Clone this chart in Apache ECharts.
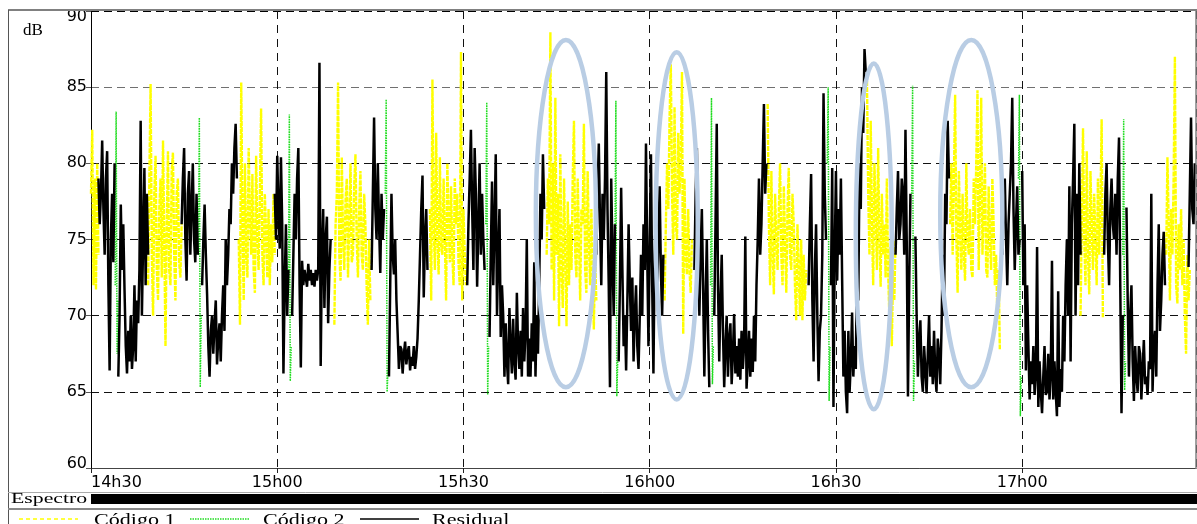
<!DOCTYPE html>
<html><head><meta charset="utf-8">
<script src="https://cdn.jsdelivr.net/npm/echarts@6/dist/echarts.min.js"></script>
<style>html,body{margin:0;padding:0;background:#fff}#c{width:1197px;height:524px}</style>
</head><body><div id="c"></div>
<script>
// sampling step (minutes since 14h30)
const STEP = 0.2, GSTEP = 0.15;
const seriesNames = ['Código 1', 'Código 2', 'Residual'];
const xTickLabels = ['14h30', '15h00', '15h30', '16h00', '16h30', '17h00'];
const yTicks = [60, 65, 70, 75, 80, 85, 90];

// [start minute, dB values]
const codigo1 = [
  [0.0, [78, 82.2, 72, 79, 71.7, 80, 74]],
  [9.2, [72, 79, 85.2, 74, 70, 78, 80.5, 73, 71, 77, 79, 72.5, 81.5, 75, 68, 76, 80.8, 73, 72, 79.5, 80.7, 74, 71, 78, 79, 73.5, 72.5, 76]],
  [23.8, [75, 69.4, 85.3, 76, 71, 80, 74, 72.5, 81, 76.5, 74, 79.3, 73, 71.5, 80.5, 75, 73, 78, 83.6, 74, 72, 78, 75.5, 72.5, 77, 72, 76, 73.5, 78, 74]],
  [39.2, [69.4, 76, 78, 85.3, 74, 72.3, 80.4, 75, 73, 77.5, 79, 72.5, 76, 80, 73.5, 74, 78.5, 80.6, 75, 72.5, 77, 79.5, 74, 73, 78, 76, 72, 69.4, 75, 71]],
  [54.6, [77, 71, 85.5, 76, 73, 82, 75, 72.7, 80.4, 74.5, 74, 79, 75, 71, 80, 76.5, 73.5, 78.5, 74, 72, 79, 76, 78, 73.5, 72, 87.3, 71, 77, 74, 72]],
  [73.4, [74, 79, 76, 88.6, 73, 80, 71, 84.3, 74, 78, 69.3, 80.6, 73, 70.5, 79, 74, 69.3, 77.5, 72, 76, 73, 79, 82.8, 74, 72.5, 79, 75, 71, 77, 76, 82.6, 73, 71.5, 79.5, 75, 72, 77, 73, 69.1, 74, 71]],
  [92.4, [71, 76, 80, 77, 83, 86.5, 78, 74, 83.7, 76, 75, 82, 78, 80, 86, 68.8, 79, 74, 72.7, 77, 73, 71.5, 75]],
  [109.0, [83.9, 76, 72, 79.5, 74, 71.4, 78, 75, 73, 77, 80, 74, 72, 78.5, 75, 71.5, 77, 79.7, 74, 73, 78, 76, 72, 69.7, 76, 73, 70, 75, 69.7, 74, 71, 73]],
  [125.0, [85.4, 78, 74, 82.8, 76, 72, 80, 77, 73, 81, 75, 71.9, 78, 74, 76, 72.5, 79, 73, 70, 74.5, 68, 73, 71, 75]],
  [138.4, [76, 80, 74, 79, 84.5, 75, 71.5, 79.5, 76, 73, 78, 74, 72.3, 80, 75, 74, 77, 73, 72.5, 79, 76, 80, 84.8, 73, 78, 84.3, 74, 77, 80, 73, 72.5, 78.5, 75, 73, 79, 76, 72, 74, 70, 73, 67.8]],
  [159.4, [70, 76, 82.3, 75, 72, 80.8, 74, 71.4, 79.5, 76, 73, 78, 75, 72, 79, 74, 77, 82.9, 69.9]],
  [173.2, [74, 80.4, 76, 71, 77, 74, 79, 87, 72, 70.8, 76, 73, 77, 72, 75, 70, 67.5, 74, 71, 73]]
];
const codigo2 = [
  [3.9, [72, 83.4, 67.5, 71]],
  [17.3, [74, 83, 65.3, 70]],
  [31.8, [72, 83.2, 65.7, 68]],
  [47.4, [78, 84.2, 65, 66.5]],
  [63.6, [76, 84, 64.8, 68]],
  [84.4, [75, 84.1, 64.7, 67]],
  [99.8, [72, 84.3, 65.5, 68]],
  [118.6, [80, 85, 64.4, 68]],
  [132.2, [78, 85.1, 64.4, 67]],
  [149.4, [79, 84.5, 63.4, 66]],
  [166.2, [74, 82.9, 65.1, 67]]
];
const residual = [
  [1.2, [79, 76, 78, 81.5, 77, 74, 79, 80.8, 72, 66.4, 75, 78, 73.5, 80]],
  [4.4, [66, 70, 77.3, 73, 76, 71.7, 68, 66.2, 69, 67, 70, 66.5, 68, 72, 67, 71, 69.5, 73, 82.8, 70, 75, 79.7, 72, 78, 74]],
  [14.6, [76, 79, 81, 75, 72.3, 78, 79.5, 74, 77, 80, 75, 73.5, 78, 74]],
  [17.9, [72, 75, 77.3, 74, 71.4, 68, 66, 69, 70, 67.5, 69.5, 71, 66.8, 68.5, 69.5, 67, 70, 72, 69, 75, 72, 74, 77, 76, 80, 78, 81, 82.6, 79]],
  [29.6, [78, 75, 80.5, 77, 74.4, 80.4, 76, 66.2, 72, 76, 70, 73]],
  [32.4, [70, 74, 78, 75, 79, 81, 72, 66.6, 73.6, 72, 73, 72.5, 71.9, 73.4, 72.3, 73, 72, 72.8, 71.9, 73, 72.3, 73, 86.6, 66.7, 74, 77, 70.5, 75, 76.5, 69.5, 73, 75]],
  [45.2, [73, 78, 83, 77, 75, 80, 76, 72.8, 78, 75, 77]],
  [48.0, [66, 72, 78, 74, 72.7, 75, 71, 68.8, 66.5, 68, 67.8, 66.2, 67.5, 68.3, 66.8, 67.6, 68, 66.4, 67.3, 66.7, 68, 66.5, 67.3, 68.5, 71, 74, 77, 79.2, 71.2, 75, 77, 73]],
  [60.6, [72, 76, 79, 82.2, 77, 73, 81, 78, 71.9, 76, 80, 74, 78, 75, 73]],
  [64.2, [68.6, 74, 78.8, 72, 76, 80.6, 70, 74, 77, 68.6, 72, 70, 66, 69.5, 67, 65.5, 70.5, 68, 66.2, 69.8, 67, 65.8, 71.5, 68, 66.5, 69, 66, 70.5, 67, 69, 75, 66, 68.5, 66, 69.5, 67, 73.5, 66, 70, 67.5, 72, 78, 75, 80.6, 77]],
  [81.4, [74, 78, 81.3, 76, 72, 78, 75, 79, 86, 77, 72, 65.3, 79, 74, 70, 76]],
  [85.0, [67, 72, 78.4, 73, 68, 70, 66.4, 71, 76, 72, 69, 72.5, 67, 70, 72, 68, 66.5, 70, 74, 70, 76, 73, 81.3, 74, 68, 75, 80.6, 72, 66.2, 74, 77, 71.5, 75, 78.5, 73, 70, 74]],
  [97.2, [73, 78, 81, 75, 70, 74, 77, 72, 66, 71, 75, 69, 65.3]],
  [100.4, [70, 76, 82.6, 72, 67, 71, 74, 69, 65.3, 68, 70, 66, 68.5, 69.5, 65.5, 67.5, 70.1, 66.2, 68, 66, 68.5, 65.8, 69, 66.5, 68, 75.2, 65.2, 67, 69, 66, 68.5, 66.3, 70, 67, 72, 75, 79, 74, 76, 80, 83.9, 78, 80]],
  [115.6, [72, 76, 79.3, 71, 67, 73, 76, 70, 65.7, 69, 70, 74, 84.6, 78, 75]],
  [119.2, [72, 79.7, 64, 74, 79.5, 72.3, 77, 74, 79, 72.3, 66, 69, 65, 63.6, 69, 65, 67, 70.2, 66, 68, 66.5, 74, 71, 80, 77, 85, 82, 87.5, 86]],
  [129.6, [74, 77, 79.5, 75, 76, 79, 78, 74, 82.2, 75, 64.7, 72, 78]],
  [132.8, [75.2, 70, 66, 68.5, 69.7, 66, 65, 68, 66.5, 64.9, 67.5, 70, 66, 68, 65.5, 69, 66.2, 65, 68.5, 67.5, 65.5, 69, 74, 70, 78, 76, 82.8, 79]],
  [146.8, [74, 77, 79, 75, 72, 76, 78, 80, 84.3, 77, 73, 76, 78.5, 74, 75]],
  [150.0, [79.5, 72, 76, 66.4, 72, 68, 64.5, 67, 65.5, 68, 64.8, 66, 74.5, 64, 67, 65, 63.6, 66, 68, 64.8, 65, 67.5, 64.5, 66, 73.6, 64.5, 67, 65, 63.4, 71.6, 64, 66.5, 65, 70, 67, 72, 75, 70, 78.5, 67, 76, 79, 82.6, 70, 78, 72, 80, 74]],
  [163.2, [74, 78, 80, 75, 72, 77, 79, 76, 75, 78, 74, 79, 81.7, 72, 63.6, 70]],
  [166.8, [77.1, 71, 66, 70, 72, 67, 64.4, 68, 66, 65, 68, 67.5, 64.5, 66.5, 68.4, 65.5, 66, 64.8, 67, 66.5, 78, 65, 68, 69, 66, 72, 76, 69, 71, 74, 75.5, 72]],
  [176.8, [73.2, 78, 83, 77, 76, 80, 79.3]]
];
// highlighted zones: [centre minute, centre dB, half-width minutes, half-height dB]
const highlights = [
  [76.5, 76.7, 4.84, 11.4],
  [94.35, 75.9, 3.39, 11.4],
  [126.1, 75.2, 2.9, 11.35],
  [141.8, 76.7, 5.0, 11.4]
];

function build(segs, step) {
  const out = [];
  segs.forEach(([s, vals]) => {
    vals.forEach((v, i) => out.push([+(s + i * step).toFixed(3), v]));
    out.push([+(s + vals.length * step).toFixed(3), '-']);
  });
  return out;
}

const chart = echarts.init(document.getElementById('c'), null, {renderer: 'canvas'});
const tickFont = 'DejaVu Sans';

chart.setOption({
  animation: false,
  backgroundColor: '#fff',
  grid: {left: 91, right: 1, top: 11, bottom: 56, containLabel: false},
  xAxis: {
    type: 'value', min: 0, max: 178, interval: 30,
    axisLine: {show: true, lineStyle: {color: '#444', width: 1}},
    axisTick: {show: true, length: 5, lineStyle: {color: '#222'}},
    axisLabel: {
      show: true, showMaxLabel: false, alignMinLabel: 'left', margin: 7,
      fontFamily: tickFont, fontSize: 16, color: '#000',
      formatter: v => { const i = Math.round(v / 30); return Math.abs(v - i * 30) < 1e-6 ? (xTickLabels[i] || '') : ''; }
    },
    splitLine: {show: true, lineStyle: {color: '#111', type: [8, 6], width: 1}}
  },
  yAxis: {
    type: 'value', min: yTicks[0], max: yTicks[yTicks.length - 1], interval: 5,
    axisLine: {show: true, lineStyle: {color: '#000', width: 1}},
    axisTick: {show: true, length: 5, lineStyle: {color: '#555'}},
    axisLabel: {
      show: true, margin: 4, fontFamily: tickFont, fontSize: 16, color: '#000',
      formatter: v => v === 90 ? '{t|90}' : (v === 60 ? '{b|60}' : String(v)),
      rich: {
        t: {fontFamily: tickFont, fontSize: 16, color: '#000', padding: [12, 0, 0, 0]},
        b: {fontFamily: tickFont, fontSize: 16, color: '#000', padding: [0, 0, 8, 0]}
      }
    },
    splitLine: {show: true, lineStyle: {color: ['#000', '#111', '#111', '#111', '#111', '#707070', '#000'], type: [8, 5], width: 1}}
  },
  series: [
    {
      name: seriesNames[0], type: 'line', data: build(codigo1, STEP), showSymbol: false, symbol: 'none',
      lineStyle: {color: '#ffff00', width: 2.4, type: [5, 1]}, connectNulls: false, z: 2
    },
    {
      name: seriesNames[1], type: 'line', data: build(codigo2, GSTEP), showSymbol: false, symbol: 'none',
      lineStyle: {color: '#22dd22', width: 1.5, type: [1.5, 1]}, connectNulls: false, z: 3
    },
    {
      name: seriesNames[2], type: 'line', data: build(residual, STEP), showSymbol: false, symbol: 'none',
      lineStyle: {color: '#000', width: 2.5}, connectNulls: false, z: 4
    },
    {
      type: 'custom', data: highlights, z: 10, clip: false, silent: true,
      encode: {x: 0, y: 1},
      renderItem: (params, api) => {
        const c = api.coord([api.value(0), api.value(1)]);
        const s = api.size([api.value(2), api.value(3)]);
        return {type: 'ellipse', shape: {cx: c[0], cy: c[1], rx: s[0], ry: s[1]},
          style: {fill: 'none', stroke: '#b9cde4', lineWidth: 4.5}};
      }
    }
  ],
  graphic: [
    {type: 'line', shape: {x1: 8, y1: 10, x2: 1197, y2: 10}, style: {stroke: '#808080', lineWidth: 2}, z: 20},
    {type: 'line', shape: {x1: 8.5, y1: 10, x2: 8.5, y2: 524}, style: {stroke: '#555', lineWidth: 1}, z: 20},
    {type: 'line', shape: {x1: 1196, y1: 10, x2: 1196, y2: 469}, style: {stroke: '#808080', lineWidth: 1.5}, z: 20},
    {type: 'line', shape: {x1: 8, y1: 492.5, x2: 1197, y2: 492.5}, style: {stroke: '#aaa', lineWidth: 1}, z: 20},
    {type: 'rect', shape: {x: 91, y: 494, width: 1106, height: 10}, style: {fill: '#000'}, z: 20},
    {type: 'line', shape: {x1: 8, y1: 509, x2: 1197, y2: 509}, style: {stroke: '#888', lineWidth: 2}, z: 20},
    {type: 'text', x: 11, y: 499.5, scaleX: 1.45, style: {text: 'Espectro', font: '15px "Liberation Serif"', fill: '#000', textVerticalAlign: 'middle'}, z: 20},
    {type: 'text', x: 23, y: 31, style: {text: 'dB', font: '17px "Liberation Serif"', fill: '#000', textVerticalAlign: 'middle'}, z: 20},
    {type: 'line', shape: {x1: 19, y1: 519, x2: 78, y2: 519}, style: {stroke: '#ffff00', lineWidth: 1.5, lineDash: [4, 3]}, z: 20},
    {type: 'text', x: 94, y: 521, scaleX: 1.38, style: {text: seriesNames[0], font: '16px "Liberation Serif"', fill: '#000', textVerticalAlign: 'middle'}, z: 20},
    {type: 'line', shape: {x1: 190, y1: 519, x2: 249, y2: 519}, style: {stroke: '#22dd22', lineWidth: 1.5, lineDash: [1.5, 1]}, z: 20},
    {type: 'text', x: 263, y: 521, scaleX: 1.38, style: {text: seriesNames[1], font: '16px "Liberation Serif"', fill: '#000', textVerticalAlign: 'middle'}, z: 20},
    {type: 'line', shape: {x1: 360, y1: 519, x2: 419, y2: 519}, style: {stroke: '#000', lineWidth: 1.5}, z: 20},
    {type: 'text', x: 432, y: 521, scaleX: 1.38, style: {text: seriesNames[2], font: '16px "Liberation Serif"', fill: '#000', textVerticalAlign: 'middle'}, z: 20}
  ]
});
</script>
</body></html>
